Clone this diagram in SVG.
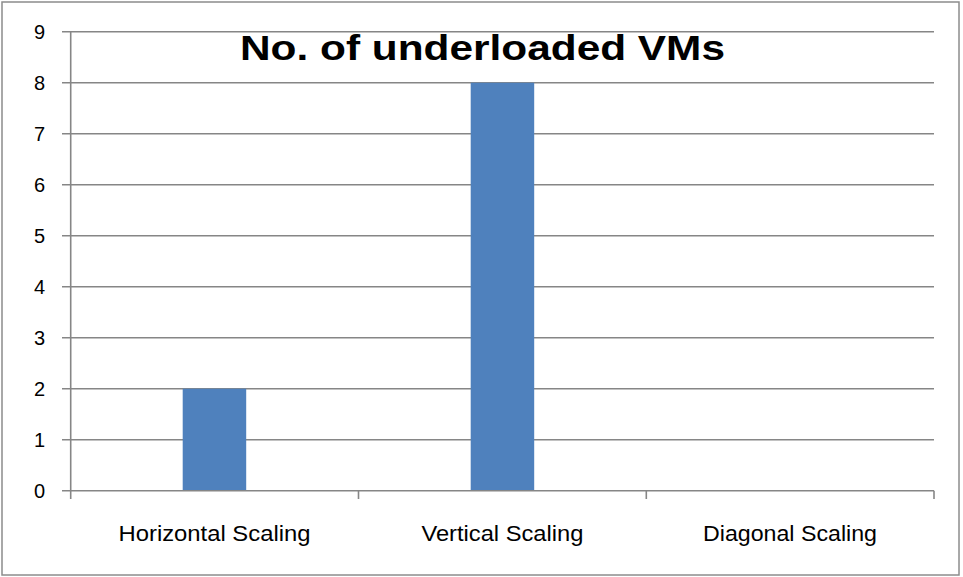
<svg xmlns="http://www.w3.org/2000/svg" width="963" height="577" viewBox="0 0 963 577">
<style>
.grid{stroke:#868686;stroke-width:1.6;fill:none}
.axis{stroke:#868686;stroke-width:1.6;fill:none}
.bar{fill:#4f81bd}
.ylab{font-family:"Liberation Sans",Arial,sans-serif;font-size:20px;fill:#000;text-anchor:end}
.xlab{font-family:"Liberation Sans",Arial,sans-serif;font-size:22px;fill:#000;text-anchor:middle}
.title{font-family:"Liberation Sans",Arial,sans-serif;font-size:35px;font-weight:bold;fill:#000;text-anchor:middle}
</style>
<rect x="2" y="2" width="957" height="573" fill="#ffffff" stroke="#8c8c8c" stroke-width="1.5"/>
<g id="gridlines">
<line class="grid" x1="62" y1="31.7" x2="934" y2="31.7"/>
<line class="grid" x1="62" y1="82.7" x2="934" y2="82.7"/>
<line class="grid" x1="62" y1="133.7" x2="934" y2="133.7"/>
<line class="grid" x1="62" y1="184.7" x2="934" y2="184.7"/>
<line class="grid" x1="62" y1="235.7" x2="934" y2="235.7"/>
<line class="grid" x1="62" y1="286.7" x2="934" y2="286.7"/>
<line class="grid" x1="62" y1="337.7" x2="934" y2="337.7"/>
<line class="grid" x1="62" y1="388.7" x2="934" y2="388.7"/>
<line class="grid" x1="62" y1="439.7" x2="934" y2="439.7"/>
</g>
<g id="bars">
<rect id="bar-horizontal" class="bar" x="182.7" y="388.7" width="63.5" height="102"/>
<rect id="bar-vertical" class="bar" x="470.7" y="82.7" width="63.5" height="408"/>
</g>
<g id="axes">
<line class="axis" x1="70.7" y1="31.7" x2="70.7" y2="490.7"/>
<line class="axis" x1="62" y1="490.7" x2="934" y2="490.7"/>
<line class="axis" x1="70.7" y1="490.7" x2="70.7" y2="499"/>
<line class="axis" x1="358.5" y1="490.7" x2="358.5" y2="499"/>
<line class="axis" x1="646.3" y1="490.7" x2="646.3" y2="499"/>
<line class="axis" x1="934" y1="490.7" x2="934" y2="499"/>
</g>
<g id="ylabels">
<text class="ylab" x="45" y="38.9">9</text>
<text class="ylab" x="45" y="89.9">8</text>
<text class="ylab" x="45" y="140.9">7</text>
<text class="ylab" x="45" y="191.9">6</text>
<text class="ylab" x="45" y="242.9">5</text>
<text class="ylab" x="45" y="293.9">4</text>
<text class="ylab" x="45" y="344.9">3</text>
<text class="ylab" x="45" y="395.9">2</text>
<text class="ylab" x="45" y="446.9">1</text>
<text class="ylab" x="45" y="497.9">0</text>
</g>
<g id="xlabels">
<text class="xlab" x="214.5" y="540.7" textLength="192" lengthAdjust="spacingAndGlyphs">Horizontal Scaling</text>
<text class="xlab" x="502.4" y="540.7" textLength="162" lengthAdjust="spacingAndGlyphs">Vertical Scaling</text>
<text class="xlab" x="790" y="540.7" textLength="174" lengthAdjust="spacingAndGlyphs">Diagonal Scaling</text>
</g>
<g id="title">
<text class="title" x="482.5" y="60" textLength="485" lengthAdjust="spacingAndGlyphs">No. of underloaded VMs</text>
</g>
</svg>
